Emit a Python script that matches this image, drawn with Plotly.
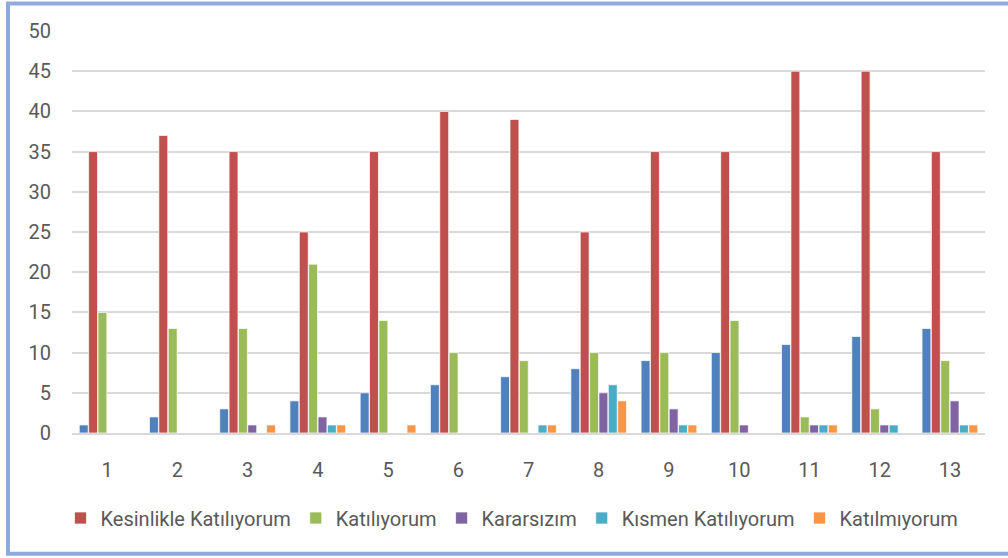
import plotly.graph_objects as go

categories = ["1", "2", "3", "4", "5", "6", "7", "8", "9", "10", "11", "12", "13"]
seri_no = [1, 2, 3, 4, 5, 6, 7, 8, 9, 10, 11, 12, 13]
kesinlikle = [35, 37, 35, 25, 35, 40, 39, 25, 35, 35, 45, 45, 35]
katiliyorum = [15, 13, 13, 21, 14, 10, 9, 10, 10, 14, 2, 3, 9]
kararsizim = [0, 0, 1, 2, 0, 0, 0, 5, 3, 1, 1, 1, 4]
kismen = [0, 0, 0, 1, 0, 0, 1, 6, 1, 0, 1, 1, 1]
katilmiyorum = [0, 0, 1, 1, 1, 0, 1, 4, 1, 0, 1, 0, 1]

series = [
    ("", seri_no, "#4F81BD", False),
    ("Kesinlikle Katılıyorum", kesinlikle, "#C0504D", True),
    ("Katılıyorum", katiliyorum, "#9BBB59", True),
    ("Kararsızım", kararsizim, "#8064A2", True),
    ("Kısmen Katılıyorum", kismen, "#4BACC6", True),
    ("Katılmıyorum", katilmiyorum, "#F79646", True),
]

FONT = "Roboto, Arial, sans-serif"

fig = go.Figure()
for name, vals, color, show in series:
    fig.add_trace(go.Bar(
        x=categories,
        y=[v if v != 0 else None for v in vals],
        name=name,
        marker=dict(color=color, line=dict(color="rgba(255,255,255,0.7)", width=1)),
        showlegend=show,
    ))

W, H = 1008, 558
ml, mr, mt, mb = 72, 23, 31, 124.5
pw = W - ml - mr
ph = H - mt - mb

def px2x(px):
    return (px - ml) / pw

def py2y(py):
    return (H - mb - py) / ph

fig.update_layout(
    width=W, height=H,
    margin=dict(l=ml, r=mr, t=mt, b=mb, pad=0, autoexpand=False),
    paper_bgcolor="white",
    plot_bgcolor="white",
    barmode="group",
    bargap=0.2,
    bargroupgap=0.05,
    font=dict(family=FONT, size=20, color="#595959"),
    xaxis=dict(
        type="category",
        showgrid=False,
        showline=True, linecolor="#D9D9D9", linewidth=2,
        ticks="", ticklabelstandoff=18,
        tickfont=dict(size=20, color="#595959"),
        automargin=False,
    ),
    yaxis=dict(
        range=[0, 50], dtick=5,
        showgrid=True, gridcolor="#D9D9D9", gridwidth=2,
        zeroline=False, showline=False,
        ticks="", ticklabelstandoff=20,
        tickfont=dict(size=20, color="#595959"),
        automargin=False,
    ),
    legend=dict(
        orientation="h",
        xref="container", yref="container",
        x=512 / W, xanchor="center",
        y=1 - 518 / H, yanchor="middle",
        font=dict(size=20, color="#595959"),
        itemwidth=30,
        traceorder="normal",
    ),
    showlegend=True,
    shapes=[dict(
        type="rect", xref="paper", yref="paper",
        x0=px2x(8), x1=px2x(1014), y0=py2y(3.5), y1=py2y(554.5),
        line=dict(color="#8FAADC", width=4),
        layer="below",
    )],
)

fig.write_html(
    "out.html",
    config={"displayModeBar": False},
    post_script="document.body.style.margin='0';document.body.style.overflow='hidden';",
)
